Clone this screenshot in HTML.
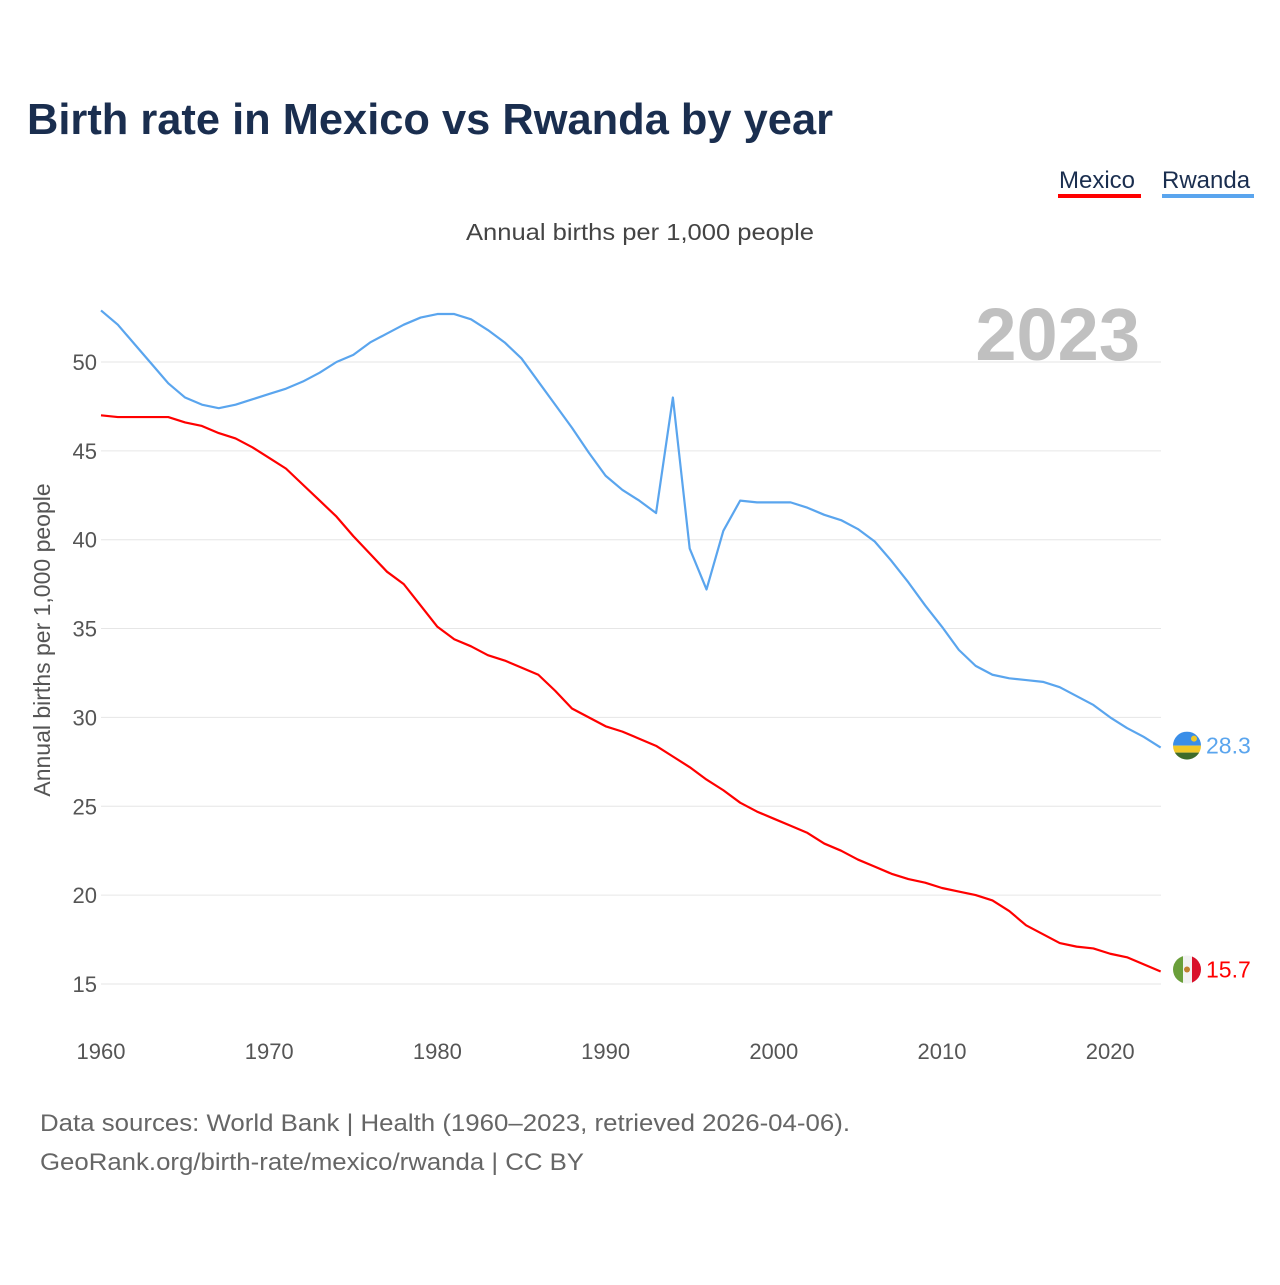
<!DOCTYPE html>
<html><head><meta charset="utf-8"><style>
body{margin:0;background:#fff;width:1280px;height:1280px;overflow:hidden;font-family:"Liberation Sans",sans-serif}
</style></head><body>
<svg width="1280" height="1280" viewBox="0 0 1280 1280" id="chart">
<text x="27" y="134" font-size="44" font-weight="bold" fill="#1a2e4f" textLength="806" lengthAdjust="spacingAndGlyphs">Birth rate in Mexico vs Rwanda by year</text>
<g><text x="1059" y="188" font-size="24" fill="#1a2e4f">Mexico</text><rect x="1058" y="194" width="83" height="4" fill="#f00"/></g>
<g><text x="1162" y="188" font-size="24" fill="#1a2e4f">Rwanda</text><rect x="1162" y="194" width="92" height="4" fill="#5aa5ee"/></g>
<text x="466" y="240" font-size="23" fill="#444" textLength="348" lengthAdjust="spacingAndGlyphs">Annual births per 1,000 people</text>
<text x="1140" y="360" font-size="74" font-weight="bold" fill="#c0c0c0" text-anchor="end">2023</text>
<text transform="translate(50,640) rotate(-90)" font-size="23" fill="#555" text-anchor="middle">Annual births per 1,000 people</text>
<g id="grid"></g><g id="xt"></g><g id="lines"></g>
<text x="40" y="1131" font-size="24" fill="#666" textLength="810" lengthAdjust="spacingAndGlyphs">Data sources: World Bank | Health (1960–2023, retrieved 2026-04-06).</text>
<text x="40" y="1170" font-size="24" fill="#666" textLength="544" lengthAdjust="spacingAndGlyphs">GeoRank.org/birth-rate/mexico/rwanda | CC BY</text>
</svg>
<script>
const years=[];for(let y=1960;y<=2023;y++)years.push(y);
const mexico=[47.0,46.9,46.9,46.9,46.9,46.6,46.4,46.0,45.7,45.2,44.6,44.0,43.1,42.2,41.3,40.2,39.2,38.2,37.5,36.3,35.1,34.4,34.0,33.5,33.2,32.8,32.4,31.5,30.5,30.0,29.5,29.2,28.8,28.4,27.8,27.2,26.5,25.9,25.2,24.7,24.3,23.9,23.5,22.9,22.5,22.0,21.6,21.2,20.9,20.7,20.4,20.2,20.0,19.7,19.1,18.3,17.8,17.3,17.1,17.0,16.7,16.5,16.1,15.7];
const rwanda=[52.9,52.1,51.0,49.9,48.8,48.0,47.6,47.4,47.6,47.9,48.2,48.5,48.9,49.4,50.0,50.4,51.1,51.6,52.1,52.5,52.7,52.7,52.4,51.8,51.1,50.2,48.9,47.6,46.3,44.9,43.6,42.8,42.2,41.5,48.0,39.5,37.2,40.5,42.2,42.1,42.1,42.1,41.8,41.4,41.1,40.6,39.9,38.8,37.6,36.3,35.1,33.8,32.9,32.4,32.2,32.1,32.0,31.7,31.2,30.7,30.0,29.4,28.9,28.3];
const yTicks=[15,20,25,30,35,40,45,50];
const xTicks=[1960,1970,1980,1990,2000,2010,2020];
const X=y=>101+(y-1960)*16.82, Y=v=>362+(50-v)*17.77;
const NS="http://www.w3.org/2000/svg";
function mk(t,a,p){const e=document.createElementNS(NS,t);for(const k in a)e.setAttribute(k,a[k]);p.appendChild(e);return e;}
const grid=document.getElementById('grid');
yTicks.forEach(v=>{
 const l=mk('line',{x1:101,x2:1161,y1:Y(v),y2:Y(v),stroke:'#e6e6e6','stroke-width':1},grid);
 
 
 const t=mk('text',{x:97,y:Y(v)+8,'font-size':22,fill:'#555','text-anchor':'end'},grid);t.textContent=v;
 
 
});
const xt=document.getElementById('xt');
xTicks.forEach(v=>{
 const t=mk('text',{x:X(v),y:1059,'font-size':22,fill:'#555','text-anchor':'middle'},xt);t.textContent=v;
 
 
});
const lines=document.getElementById('lines');
function series(d,c,name){
 const p=mk('polyline',{points:d.map((v,i)=>X(years[i])+','+Y(v)).join(' '),fill:'none',stroke:c,'stroke-width':2.2,'stroke-linejoin':'round'},lines);
 
 
 const last=d[d.length-1],cx=1187,cy=Y(last)-2;
 const g=mk('g',{},lines);
 
 
 const cp=mk('clipPath',{id:'c'+name},g);mk('circle',{cx:cx,cy:cy,r:14},cp);
 const gg=mk('g',{'clip-path':'url(#c'+name+')'},g);
 if(name==='mexico'){
  mk('rect',{x:cx-14,y:cy-14,width:10,height:28,fill:'#6a9f3a'},gg);
  mk('rect',{x:cx-4,y:cy-14,width:9,height:28,fill:'#f2f2f2'},gg);
  mk('rect',{x:cx+5,y:cy-14,width:10,height:28,fill:'#d9102a'},gg);
  mk('circle',{cx:cx,cy:cy,r:3,fill:'#c08030'},gg);
 } else {
  mk('rect',{x:cx-14,y:cy-14,width:28,height:14,fill:'#3a8ee8'},gg);
  mk('rect',{x:cx-14,y:cy,width:28,height:7,fill:'#f0c828'},gg);
  mk('rect',{x:cx-14,y:cy+7,width:28,height:7,fill:'#3f6b2a'},gg);
  mk('circle',{cx:cx+7,cy:cy-7,r:3,fill:'#f0c828'},gg);
 }
 const t=mk('text',{x:1206,y:Y(last)+6,'font-size':23,fill:c},lines);t.textContent=last.toFixed(1);
 
 
}
series(rwanda,'#5aa5ee','rwanda');
series(mexico,'#f00','mexico');
</script>
</body></html>
